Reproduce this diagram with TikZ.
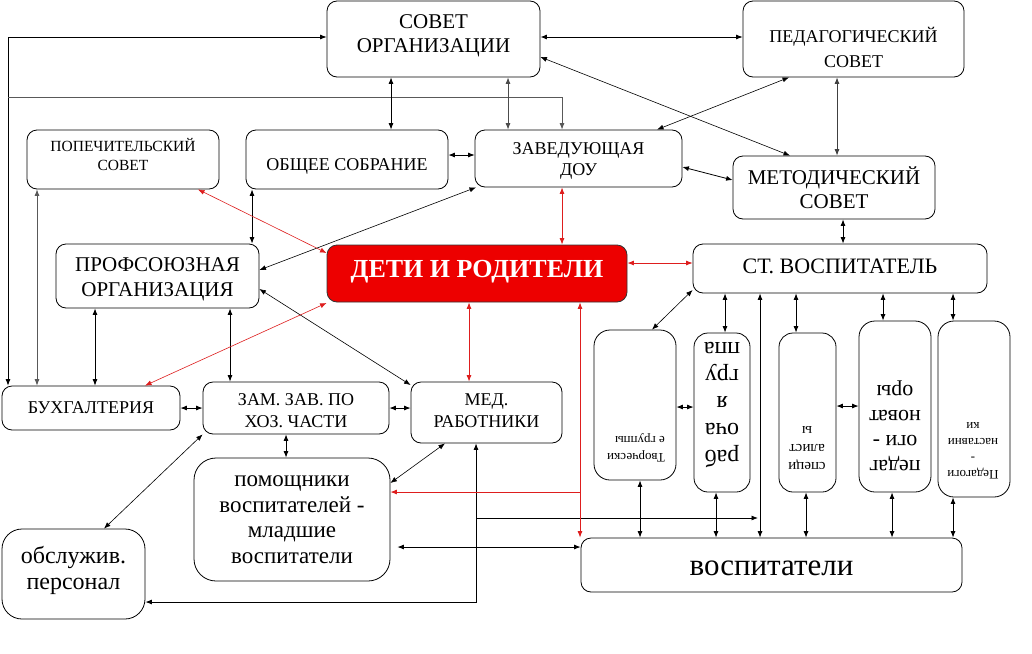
\documentclass[tikz,border=0pt]{standalone}
\usepackage{fontspec}
\setmainfont{Liberation Serif}
\usetikzlibrary{arrows.meta,calc}
\definecolor{redline}{RGB}{222,30,30}
\definecolor{redfill}{RGB}{237,0,0}
\begin{document}
\begin{tikzpicture}[x=1pt,y=-1pt,
  >={Latex[length=6.5pt,width=5pt]},
  box/.style={draw, line width=0.8pt, rounded corners=10pt, inner sep=0pt, align=center},
  lbl/.style={inner sep=0pt, align=center},
  ln/.style={line width=0.8pt},
  thin/.style={line width=0.6pt},
  rl/.style={line width=0.8pt, draw=redline},
]
\fill[white] (0,0) rectangle (1032,653);
\useasboundingbox (0,0) rectangle (1032,653);

% ---------- boxes ----------
\node[box, minimum width=213pt, minimum height=76pt] (sovet) at (433.5,39) {};
\node[lbl, font=\fontsize{21}{24.5}\selectfont] (sovett) at (433.5,36) {СОВЕТ\\ОРГАНИЗАЦИИ};
\node[box, minimum width=221pt, minimum height=76pt] (ped) at (853.5,39) {};
\node[lbl, font=\fontsize{18}{25}\selectfont] (pedt) at (853.5,47) {ПЕДАГОГИЧЕСКИЙ\\СОВЕТ};
\node[box, minimum width=192pt, minimum height=59pt] (popech) at (123,159.5) {};
\node[lbl, font=\fontsize{15.5}{19}\selectfont] (popecht) at (123,155) {ПОПЕЧИТЕЛЬСКИЙ\\СОВЕТ};
\node[box, minimum width=202pt, minimum height=59pt] (obsh) at (347,159.5) {};
\node[lbl, font=\fontsize{18}{22}\selectfont] (obsht) at (347,166) {ОБЩЕЕ СОБРАНИЕ};
\node[box, minimum width=207pt, minimum height=57pt] (zav) at (578.5,158.5) {};
\node[lbl, font=\fontsize{18}{21}\selectfont] (zavt) at (578.5,161) {ЗАВЕДУЮЩАЯ\\ДОУ};
\node[box, minimum width=202pt, minimum height=63pt, font=\fontsize{21}{24}\selectfont] (metod) at (834,187.5) {МЕТОДИЧЕСКИЙ\\СОВЕТ};
\node[box, minimum width=203pt, minimum height=64pt] (prof) at (157.5,276) {};
\node[lbl, font=\fontsize{21}{25}\selectfont] (proft) at (157.5,279) {ПРОФСОЮЗНАЯ\\ОРГАНИЗАЦИЯ};
\node[box, fill=redfill, draw=black!80, minimum width=300pt, minimum height=57pt] (deti) at (477,273.5) {};
\node[lbl, text=white, font=\bfseries\fontsize{26}{30}\selectfont] (detit) at (477,271.5) {ДЕТИ И РОДИТЕЛИ};
\node[box, minimum width=294pt, minimum height=49pt] (stv) at (840,268.5) {};
\node[lbl, font=\fontsize{22}{26}\selectfont] (stvt) at (840,266.5) {СТ. ВОСПИТАТЕЛЬ};
\node[box, minimum width=178pt, minimum height=44pt, font=\fontsize{18}{22}\selectfont] (buh) at (91,408) {БУХГАЛТЕРИЯ};
\node[box, minimum width=186pt, minimum height=52pt] (zam) at (296,408) {};
\node[lbl, font=\fontsize{18}{22}\selectfont] (zamt) at (296,411) {ЗАМ. ЗАВ. ПО\\ХОЗ. ЧАСТИ};
\node[box, minimum width=151pt, minimum height=61pt] (med) at (486.5,412.5) {};
\node[lbl, font=\fontsize{18}{22}\selectfont] (medt) at (486.5,411) {МЕД.\\РАБОТНИКИ};
\node[box, rounded corners=22pt, minimum width=196pt, minimum height=123pt, font=\fontsize{23}{25.5}\selectfont] (pom) at (292,519.5) {помощники\\воспитателей -\\младшие\\воспитатели};
\node[box, rounded corners=20pt, minimum width=143pt, minimum height=90pt] (obsl) at (73.5,574) {};
\node[lbl, font=\fontsize{24}{26}\selectfont] (obslt) at (73.5,570) {обслужив.\\персонал};
\node[box, minimum width=381pt, minimum height=54pt] (vosp) at (771.5,565) {};
\node[lbl, font=\fontsize{31}{34}\selectfont] (vospt) at (771.5,568) {воспитатели};

\node[box, rounded corners=16pt, minimum width=82pt, minimum height=150pt] (tvor) at (635,405) {};
\node[box, rounded corners=14pt, minimum width=56pt, minimum height=159pt] (rab) at (722,412.5) {};
\node[box, rounded corners=14pt, minimum width=57pt, minimum height=159pt] (spec) at (807.5,412.5) {};
\node[box, rounded corners=16pt, minimum width=72pt, minimum height=171pt] (novat) at (895,406.5) {};
\node[box, rounded corners=16pt, minimum width=72pt, minimum height=176pt] (nast) at (974,409) {};

\node[lbl, align=left, rotate=180, font=\fontsize{13}{17}\selectfont] (tvort) at (636,448) {Творчески\\е группы};
\node[lbl, rotate=180, font=\fontsize{24}{27}\selectfont] (rabt) at (722,405) {раб\\оча\\я\\гру\\ппа};
\node[lbl, rotate=180, font=\fontsize{15}{18}\selectfont] (spect) at (807,448) {специ\\алист\\ы};
\node[lbl, rotate=180, font=\fontsize{22}{25}\selectfont] (novatt) at (895,426) {педаг\\оги -\\новат\\оры};
\node[lbl, rotate=180, font=\fontsize{13}{16}\selectfont] (nastt) at (973,451) {Педагоги\\-\\наставни\\ки};

% ---------- black connectors ----------
\draw[ln,<->] (buh.north -| 8,0) -- (8,37) -- (sovet.west |- 0,37);
\draw[ln,draw=black!65,->] (8,97) -- (562,97) -- (zav.north -| 562,0);
\draw[ln,draw=black!65,<->] (popech.south -| 37,0) -- (buh.north -| 37,0);
\draw[ln,<->] (sovet.south -| 391,0) -- (obsh.north -| 391,0);
\draw[ln,draw=black!70,<->] (sovet.south -| 508,0) -- (zav.north -| 508,0);
\draw[ln,<->] (obsh.east |- 0,155) -- (zav.west |- 0,155);
\draw[ln,<->] (sovet.east |- 0,37) -- (ped.west |- 0,37);
\draw[thin,<->] (sovet.east |- 0,57) -- (metod.north -| 790,0);
\draw[thin,<->] (ped.south -| 789,0) -- (zav.north -| 657,0);
\draw[ln,draw=black!75,<->] (ped.south -| 837,0) -- (metod.north -| 837,0);
\draw[ln,<->] (zav.east |- 0,167) -- (metod.west |- 0,180);
\draw[ln,<->] (metod.south -| 843,0) -- (stv.north -| 843,0);
\draw[ln,<->] (obsh.south -| 252,0) -- (prof.north -| 252,0);
\draw[thin,<->] (zav.south -| 476,0) -- (prof.east |- 0,270);
\draw[thin,<->] (prof.east |- 0,289) -- (med.west |- 0,385);
\draw[ln,<->] (prof.south -| 95,0) -- (buh.north -| 95,0);
\draw[ln,<->] (prof.south -| 230,0) -- (zam.north -| 230,0);
\draw[ln,<->] (buh.east |- 0,408) -- (zam.west |- 0,408);
\draw[ln,<->] (zam.east |- 0,408) -- (med.west |- 0,408);
\draw[thin,<->] (zam.south west) -- (obsl.north -| 104,0);
\draw[ln,<->] (zam.south -| 286,0) -- (pom.north -| 286,0);
\draw[thin,<->] (med.south -| 445,0) -- (pom.east |- 0,483);
\draw[ln,<->] (med.south -| 476,0) -- (476,602) -- (obsl.east |- 0,602);
\draw[ln,->] (476,518) -- (758,518);
\draw[ln,<->] (stv.south -| 760,0) -- (vosp.north -| 760,0);
\draw[ln,<->] ($(pom.east |- 0,547)+(7,0)$) -- (vosp.west |- 0,547);
\draw[thin,<->] (tvor.north -| 652,0) -- (stv.west |- 0,290);
\draw[ln,<->] (tvor.east |- 0,407) -- (rab.west |- 0,407);
\draw[ln,<->] (spec.east |- 0,406) -- (novat.west |- 0,406);
\draw[ln,<->] (stv.south -| 725,0) -- (rab.north -| 725,0);
\draw[ln,<->] (stv.south -| 796,0) -- (spec.north -| 796,0);
\draw[ln,<->] (stv.south -| 883,0) -- (novat.north -| 883,0);
\draw[ln,<->] (stv.south -| 953,0) -- (nast.north -| 953,0);
\draw[ln,<->] (tvor.south -| 640,0) -- (vosp.north -| 640,0);
\draw[ln,<->] (rab.south -| 716,0) -- (vosp.north -| 716,0);
\draw[ln,<->] (spec.south -| 806,0) -- (vosp.north -| 806,0);
\draw[ln,<->] (novat.south -| 892,0) -- (vosp.north -| 892,0);
\draw[ln,<->] (nast.south -| 953,0) -- (vosp.north -| 953,0);

% ---------- red connectors ----------
\draw[rl,<->] (zav.south -| 562,0) -- (deti.north -| 562,0);
\draw[rl,thin,<->] (popech.south -| 198,0) -- (deti.west |- 0,253);
\draw[rl,thin,<->] (deti.west |- 0,303) -- (buh.north -| 145,0);
\draw[rl,<->] (deti.south -| 469,0) -- (med.north -| 469,0);
\draw[rl,<->] (deti.east |- 0,263) -- (stv.west |- 0,263);
\draw[rl,<->] (deti.south -| 580,0) -- (vosp.north -| 580,0);
\draw[rl,->] (580,492) -- (pom.east |- 0,492);
\end{tikzpicture}
\end{document}
